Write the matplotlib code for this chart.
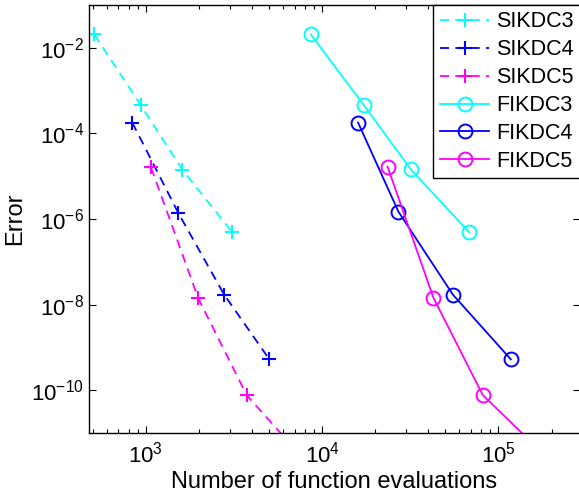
import numpy as np
import matplotlib
matplotlib.use("Agg")
import matplotlib.pyplot as plt
from matplotlib.ticker import FixedLocator, NullLocator, LogLocator, FuncFormatter

plt.rcParams['font.family'] = ['Liberation Sans', 'DejaVu Sans']
plt.rcParams['mathtext.fontset'] = 'custom'
plt.rcParams['mathtext.rm'] = 'Liberation Sans'
plt.rcParams['mathtext.it'] = 'Liberation Sans:italic'

# data
si3_n = [511, 940, 1614, 3100]
si3_err = [2.05e-2, 4.5e-4, 1.41e-5, 4.9e-7]
si4_n = [839, 1531, 2782, 5025]
si4_err = [1.79e-4, 1.38e-6, 1.72e-8, 5.25e-10]
si5_n = [1072, 1988, 3741, 7100]
si5_err = [1.6e-5, 1.39e-8, 7.6e-11, 4.0e-12]

fi3_n = [8630, 17300, 31860, 68200]
fi3_err = [2.05e-2, 4.5e-4, 1.44e-5, 4.9e-7]
fi4_n = [16000, 27100, 55100, 117600]
fi4_err = [1.79e-4, 1.48e-6, 1.72e-8, 5.25e-10]
fi5_n = [23500, 42800, 81500, 155000]
fi5_err = [1.68e-5, 1.44e-8, 7.7e-11, 5.9e-12]

fig = plt.figure(figsize=(5.79, 4.95), dpi=100)
ax = fig.add_axes([89/579, 62/495, 491/579, 428/495])

dash = (0, (5, 3.5))
lw = 1.3
ax.plot(si3_n, si3_err, color='cyan', ls=dash, lw=lw, marker='+', ms=10.5, mew=1.5, label='SIKDC3')
ax.plot(si4_n, si4_err, color='blue', ls=dash, lw=lw, marker='+', ms=10.5, mew=1.5, label='SIKDC4')
ax.plot(si5_n, si5_err, color='magenta', ls=dash, lw=lw, marker='+', ms=10.5, mew=1.5, label='SIKDC5')
ax.plot(fi3_n, fi3_err, color='cyan', ls='-', lw=lw, marker='o', ms=10, mew=1.4, mfc='none', label='FIKDC3')
ax.plot(fi4_n, fi4_err, color='blue', ls='-', lw=lw, marker='o', ms=10, mew=1.4, mfc='none', label='FIKDC4')
ax.plot(fi5_n, fi5_err, color='magenta', ls='-', lw=lw, marker='o', ms=10, mew=1.4, mfc='none', label='FIKDC5')

ax.set_xscale('log')
ax.set_yscale('log')
ax.set_xlim(477, 2.9e5)
ax.set_ylim(1e-11, 1e-1)

def pow10(v, pos):
    return r'$\mathrm{10^{%d}}$' % int(round(np.log10(v)))

ax.yaxis.set_major_locator(FixedLocator([1e-10, 1e-8, 1e-6, 1e-4, 1e-2]))
ax.yaxis.set_minor_locator(NullLocator())
ax.xaxis.set_major_locator(LogLocator(base=10))
ax.xaxis.set_minor_locator(LogLocator(base=10, subs=np.arange(2, 10)))
ax.xaxis.set_major_formatter(FuncFormatter(pow10))
ax.yaxis.set_major_formatter(FuncFormatter(pow10))

ax.tick_params(which='both', direction='in', top=True, right=True, labelsize=16, width=0.8)
ax.tick_params(which='major', length=5)
ax.tick_params(which='minor', length=3)
ax.tick_params(axis='x', pad=6)
for s in ax.spines.values():
    s.set_linewidth(1.0)

ax.set_xlabel('Number of function evaluations', fontsize=17, labelpad=3)
ax.set_ylabel('Error', fontsize=17, labelpad=4)

leg = ax.legend(loc='upper right', fontsize=15.5, borderaxespad=0, fancybox=False,
                edgecolor='black', framealpha=1, handlelength=2.3, handletextpad=0.3,
                labelspacing=0.32, borderpad=0.3)
leg.get_frame().set_linewidth(1.0)

fig.savefig('out.png', dpi=100)
